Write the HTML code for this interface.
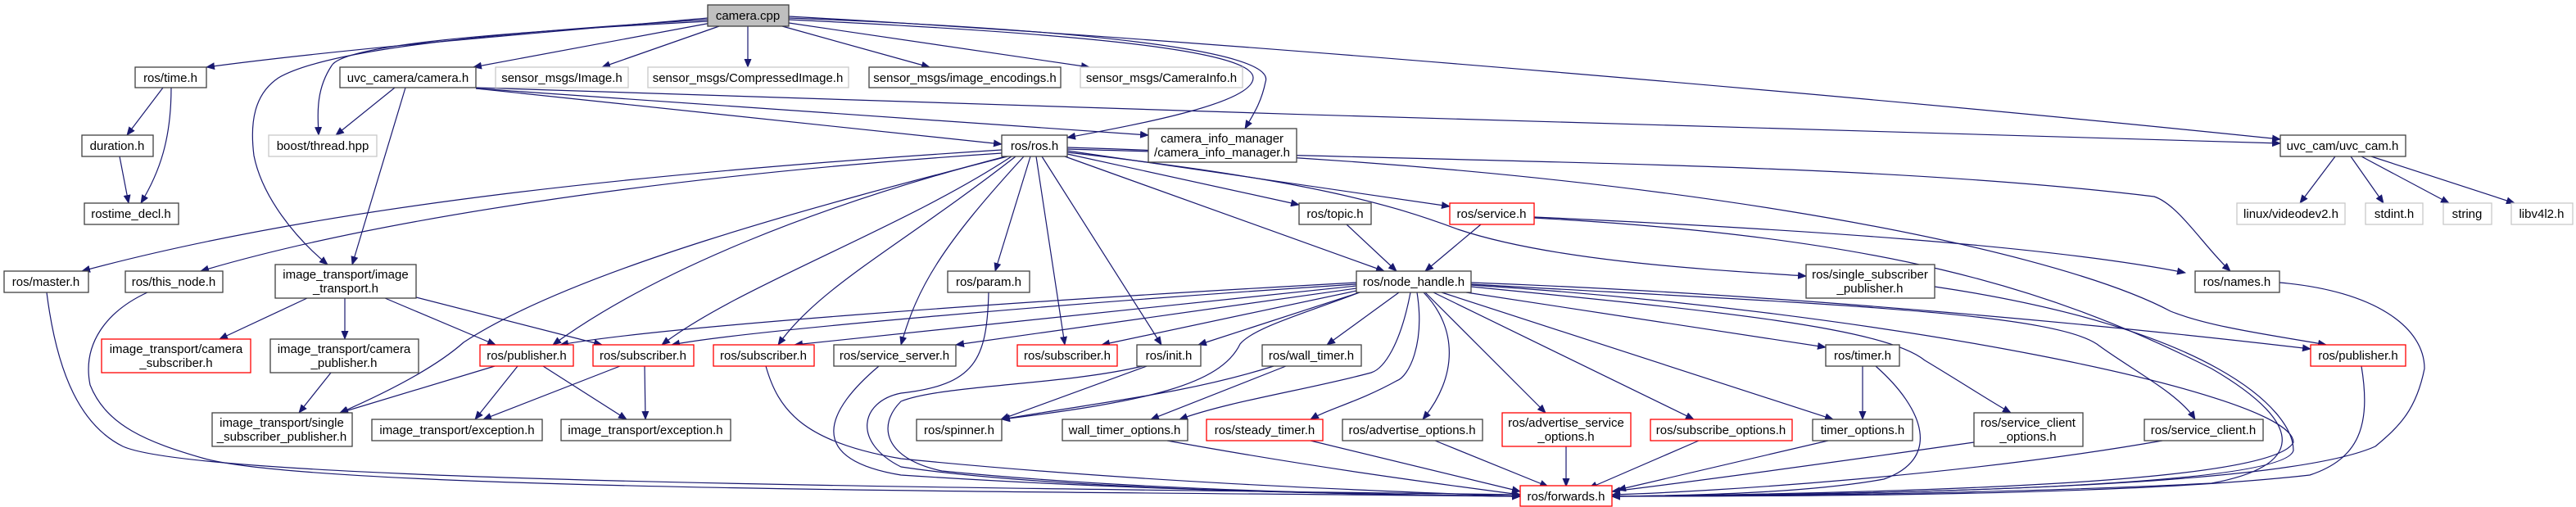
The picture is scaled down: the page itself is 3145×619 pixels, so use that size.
<!DOCTYPE html>
<html><head><meta charset="utf-8"><style>
html,body{margin:0;padding:0;background:#fff;width:3145px;height:619px;overflow:hidden}
svg text{font-family:"Liberation Sans",sans-serif;font-size:15px;fill:#000}
</style></head><body>
<svg width="3145" height="619" viewBox="0 0 3145 619" xmlns="http://www.w3.org/2000/svg">
<defs><marker id="a" markerWidth="11" markerHeight="9" refX="10" refY="4.5" orient="auto" markerUnits="userSpaceOnUse"><path d="M0,0 L11,4.5 L0,9z" fill="#191970"/></marker></defs>
<g fill="none" stroke="#191970" stroke-width="1.2" marker-end="url(#a)">
<path d="M864,22 C600,45 400,62 252,82"/>
<path d="M868,28 L578,82"/>
<path d="M878,32 L735,82"/>
<path d="M913,32 L913,82"/>
<path d="M955,32 L1135,82"/>
<path d="M963,28 L1330,82"/>
<path d="M963,24 C1300,40 1530,60 1530,95 C1530,125 1400,150 1303,168"/>
<path d="M963,22 C1300,35 1560,60 1545,100 C1540,125 1530,140 1520,157"/>
<path d="M963,20 C1500,50 2300,120 2784,170"/>
<path d="M864,26 C600,40 420,55 405,80 C385,110 388,140 389,165"/>
<path d="M864,24 C600,40 400,60 340,95 C310,115 305,150 310,190 C320,240 360,290 400,323"/>
<path d="M482,107 L410,165"/>
<path d="M495,107 L430,323"/>
<path d="M581,108 L1223,176"/>
<path d="M581,108 C900,130 1200,150 1402,165"/>
<path d="M581,107 C1200,130 2300,160 2784,175"/>
<path d="M199,107 L155,165"/>
<path d="M209,107 C209,170 195,210 172,248"/>
<path d="M146,191 L157,248"/>
<path d="M1223,183 C800,210 400,250 100,331"/>
<path d="M1223,187 C800,215 450,270 245,331"/>
<path d="M1228,191 C1000,250 800,330 675,421"/>
<path d="M1230,191 C1000,250 700,330 566,418 C530,450 470,480 415,504"/>
<path d="M1240,191 C1100,300 1000,350 950,421"/>
<path d="M1235,191 C1100,280 900,350 808,421"/>
<path d="M1250,191 C1150,300 1120,350 1100,421"/>
<path d="M1258,191 L1215,331"/>
<path d="M1265,191 L1300,421"/>
<path d="M1272,191 L1418,421"/>
<path d="M1303,188 L1586,250"/>
<path d="M1300,191 L1690,331"/>
<path d="M1303,184 L1770,252"/>
<path d="M1303,186 C1600,220 1700,250 1780,280 C1900,320 2100,330 2205,337"/>
<path d="M1303,182 C1900,200 2300,200 2630,240 C2660,250 2690,300 2723,331"/>
<path d="M1303,180 C2000,200 2500,300 2650,380 C2700,400 2780,410 2840,421"/>
<path d="M375,364 L268,414"/>
<path d="M421,364 L421,414"/>
<path d="M470,364 L605,421"/>
<path d="M508,363 L735,421"/>
<path d="M404,455 L365,504"/>
<path d="M604,447 L415,504"/>
<path d="M632,447 L580,512"/>
<path d="M663,447 L765,512"/>
<path d="M757,447 L590,512"/>
<path d="M787,447 L788,512"/>
<path d="M180,357 C130,380 100,420 110,470 C130,520 180,540 250,560 C400,600 1300,600 1856,606"/>
<path d="M57,357 C70,460 100,520 150,545 C250,590 1200,595 1856,604"/>
<path d="M935,447 C950,500 980,540 1100,560 C1400,590 1700,600 1856,606"/>
<path d="M1073,447 C1010,500 980,560 1100,580 C1400,600 1700,604 1856,606"/>
<path d="M1207,357 C1205,440 1190,470 1100,480 C1050,490 1040,540 1100,570 C1300,600 1700,604 1856,606"/>
<path d="M1400,447 L1222,512"/>
<path d="M1395,447 C1300,470 1150,470 1100,490 C1070,520 1080,560 1150,575 C1400,600 1700,604 1856,606"/>
<path d="M1555,447 C1450,480 1350,490 1223,512"/>
<path d="M1570,447 L1405,512"/>
<path d="M1656,345 C1200,370 800,400 684,421"/>
<path d="M1656,347 C1300,370 900,405 820,421"/>
<path d="M1656,349 L970,421"/>
<path d="M1656,352 L1167,421"/>
<path d="M1656,355 L1345,421"/>
<path d="M1660,357 L1463,421"/>
<path d="M1708,357 L1620,421"/>
<path d="M1660,357 C1600,380 1530,400 1514,420 C1490,470 1400,490 1223,512"/>
<path d="M1722,357 C1710,420 1690,450 1674,455 C1600,475 1500,490 1440,512"/>
<path d="M1730,357 C1740,420 1720,460 1705,465 C1660,490 1620,500 1600,512"/>
<path d="M1738,357 C1780,400 1780,460 1737,512"/>
<path d="M1740,357 L1887,504"/>
<path d="M1750,357 L2068,512"/>
<path d="M1760,357 L2238,512"/>
<path d="M1790,357 L2229,424"/>
<path d="M1796,350 C2100,380 2300,400 2350,440 C2400,470 2430,490 2455,504"/>
<path d="M1796,347 C2200,370 2500,380 2560,420 C2600,450 2660,480 2680,512"/>
<path d="M1796,345 C2200,360 2600,400 2821,426"/>
<path d="M1796,348 C2300,380 2800,480 2800,540 C2780,580 2500,600 1968,606"/>
<path d="M1808,274 L1740,331"/>
<path d="M1644,274 L1705,331"/>
<path d="M1873,265 C2200,280 2500,300 2668,333"/>
<path d="M1873,266 C2300,290 2500,350 2700,450 C2820,520 2810,570 2700,590 C2400,605 2100,605 1968,606"/>
<path d="M2362,350 C2700,400 2800,500 2800,550 C2790,590 2400,603 1968,606"/>
<path d="M2274,447 L2274,512"/>
<path d="M2290,447 C2350,500 2370,560 2300,585 C2200,603 2050,605 1968,606"/>
<path d="M2783,345 C2900,355 2960,400 2960,450 C2950,500 2930,520 2900,545 C2800,590 2400,603 1968,606"/>
<path d="M2883,447 C2895,520 2880,560 2820,580 C2600,605 2200,606 1968,606"/>
<path d="M2410,540 C2200,570 2050,590 1968,600"/>
<path d="M2640,538 C2400,580 2100,600 1968,604"/>
<path d="M2232,538 L1975,598"/>
<path d="M2074,538 L1940,596"/>
<path d="M1912,545 L1912,594"/>
<path d="M1752,538 L1890,594"/>
<path d="M1600,538 L1856,600"/>
<path d="M1425,538 C1600,570 1750,590 1856,604"/>
<path d="M2851,191 L2808,248"/>
<path d="M2870,191 L2910,248"/>
<path d="M2883,191 L2990,248"/>
<path d="M2895,191 L3070,248"/>
</g>
<g stroke-width="1.3">
<rect x="864" y="6" width="99" height="26" fill="#bfbfbf" stroke="#404040"/>
<g fill="#fff" stroke="#404040">
<rect x="165" y="82" width="87" height="25"/><rect x="415" y="82" width="166" height="25"/>
<rect x="1061" y="82" width="234" height="25"/>
<rect x="100" y="165" width="87" height="26"/><rect x="1223" y="165" width="80" height="26"/>
<rect x="1402" y="157" width="181" height="41"/><rect x="2784" y="165" width="153" height="26"/>
<rect x="103" y="248" width="115" height="26"/><rect x="1586" y="248" width="88" height="26"/>
<rect x="5" y="331" width="103" height="26"/><rect x="153" y="331" width="119" height="26"/>
<rect x="336" y="323" width="172" height="41"/><rect x="1157" y="331" width="100" height="26"/>
<rect x="1656" y="331" width="140" height="26"/><rect x="2205" y="323" width="157" height="41"/>
<rect x="2680" y="331" width="103" height="26"/>
<rect x="330" y="414" width="181" height="41"/><rect x="1018" y="421" width="149" height="26"/>
<rect x="1388" y="421" width="78" height="26"/><rect x="1541" y="421" width="121" height="26"/>
<rect x="2229" y="421" width="90" height="26"/>
<rect x="259" y="504" width="171" height="41"/><rect x="454" y="512" width="208" height="26"/>
<rect x="685" y="512" width="207" height="26"/><rect x="1119" y="512" width="104" height="26"/>
<rect x="1297" y="512" width="153" height="26"/><rect x="1639" y="512" width="171" height="26"/>
<rect x="2213" y="512" width="122" height="26"/><rect x="2410" y="504" width="133" height="41"/>
<rect x="2618" y="512" width="145" height="26"/>
</g>
<g fill="#fff" stroke="#ff0000">
<rect x="1770" y="248" width="103" height="26"/>
<rect x="124" y="414" width="182" height="41"/><rect x="586" y="421" width="114" height="26"/>
<rect x="724" y="421" width="123" height="26"/><rect x="871" y="421" width="123" height="26"/>
<rect x="1242" y="421" width="122" height="26"/><rect x="2821" y="421" width="116" height="26"/>
<rect x="1473" y="512" width="142" height="26"/><rect x="1834" y="504" width="157" height="41"/>
<rect x="2015" y="512" width="173" height="26"/><rect x="1856" y="593" width="112" height="25"/>
</g>
<g fill="#fff" stroke="#c8c8c8">
<rect x="605" y="82" width="162" height="25"/><rect x="791" y="82" width="245" height="25"/>
<rect x="1319" y="82" width="198" height="25"/><rect x="328" y="165" width="132" height="26"/>
<rect x="2731" y="248" width="132" height="26"/><rect x="2888" y="248" width="70" height="26"/>
<rect x="2983" y="248" width="59" height="26"/><rect x="3066" y="248" width="75" height="26"/>
</g>
</g>
<g text-anchor="middle">
<text x="913" y="24">camera.cpp</text>
<text x="208" y="100">ros/time.h</text>
<text x="498" y="100">uvc_camera/camera.h</text>
<text x="686" y="100">sensor_msgs/Image.h</text>
<text x="913" y="100">sensor_msgs/CompressedImage.h</text>
<text x="1178" y="100">sensor_msgs/image_encodings.h</text>
<text x="1418" y="100">sensor_msgs/CameraInfo.h</text>
<text x="143" y="183">duration.h</text>
<text x="394" y="183">boost/thread.hpp</text>
<text x="1263" y="183">ros/ros.h</text>
<text x="1492" y="174">camera_info_manager</text>
<text x="1492" y="191">/camera_info_manager.h</text>
<text x="2860" y="183">uvc_cam/uvc_cam.h</text>
<text x="160" y="266">rostime_decl.h</text>
<text x="1630" y="266">ros/topic.h</text>
<text x="1821" y="266">ros/service.h</text>
<text x="2797" y="266">linux/videodev2.h</text>
<text x="2923" y="266">stdint.h</text>
<text x="3012" y="266">string</text>
<text x="3103" y="266">libv4l2.h</text>
<text x="56" y="349">ros/master.h</text>
<text x="212" y="349">ros/this_node.h</text>
<text x="422" y="340">image_transport/image</text>
<text x="422" y="357">_transport.h</text>
<text x="1207" y="349">ros/param.h</text>
<text x="1726" y="349">ros/node_handle.h</text>
<text x="2283" y="340">ros/single_subscriber</text>
<text x="2283" y="357">_publisher.h</text>
<text x="2731" y="349">ros/names.h</text>
<text x="215" y="431">image_transport/camera</text>
<text x="215" y="448">_subscriber.h</text>
<text x="420" y="431">image_transport/camera</text>
<text x="420" y="448">_publisher.h</text>
<text x="643" y="439">ros/publisher.h</text>
<text x="785" y="439">ros/subscriber.h</text>
<text x="932" y="439">ros/subscriber.h</text>
<text x="1092" y="439">ros/service_server.h</text>
<text x="1303" y="439">ros/subscriber.h</text>
<text x="1427" y="439">ros/init.h</text>
<text x="1601" y="439">ros/wall_timer.h</text>
<text x="2274" y="439">ros/timer.h</text>
<text x="2879" y="439">ros/publisher.h</text>
<text x="344" y="521">image_transport/single</text>
<text x="344" y="538">_subscriber_publisher.h</text>
<text x="558" y="530">image_transport/exception.h</text>
<text x="788" y="530">image_transport/exception.h</text>
<text x="1171" y="530">ros/spinner.h</text>
<text x="1373" y="530">wall_timer_options.h</text>
<text x="1544" y="530">ros/steady_timer.h</text>
<text x="1724" y="530">ros/advertise_options.h</text>
<text x="1912" y="521">ros/advertise_service</text>
<text x="1912" y="538">_options.h</text>
<text x="2101" y="530">ros/subscribe_options.h</text>
<text x="2274" y="530">timer_options.h</text>
<text x="2476" y="521">ros/service_client</text>
<text x="2476" y="538">_options.h</text>
<text x="2690" y="530">ros/service_client.h</text>
<text x="1912" y="611">ros/forwards.h</text>
</g>
</svg>
</body></html>
